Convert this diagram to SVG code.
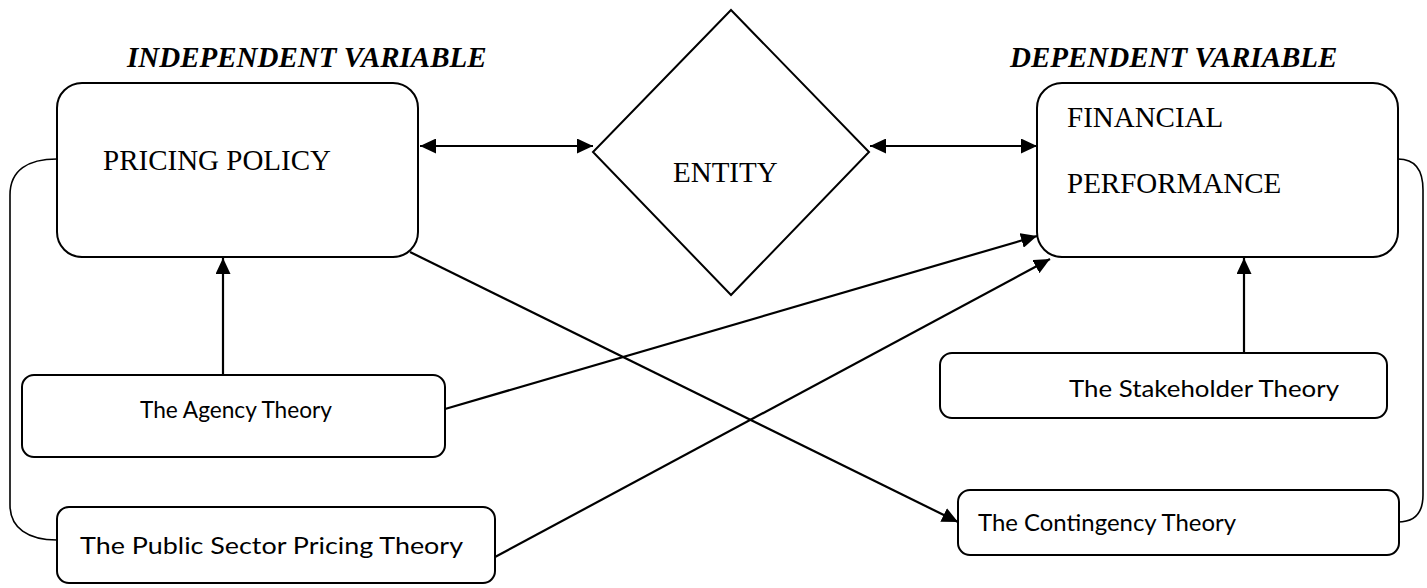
<svg xmlns="http://www.w3.org/2000/svg" width="1427" height="588" viewBox="0 0 1427 588">
<style>
.box{fill:#fff;stroke:#000;stroke-width:2}
.br{fill:none;stroke:#000;stroke-width:1.6}
.ln{fill:none;stroke:#000;stroke-width:2.2}
.tnr{font-family:"Liberation Serif",serif;font-size:29px;fill:#000}
.hd{font-family:"Liberation Serif",serif;font-size:29px;font-weight:bold;font-style:italic;fill:#000}
.cal{font-family:Lato,"Open Sans",sans-serif;font-size:23px;fill:#000}
</style>
<defs>
<marker id="ah" markerUnits="userSpaceOnUse" markerWidth="17" markerHeight="15" refX="16" refY="7.5" orient="auto-start-reverse">
<path d="M0,0 L16,7.5 L0,15 z" fill="#000"/>
</marker>
</defs>
<rect width="1427" height="588" fill="#fff"/>
<text class="hd" x="127" y="67">INDEPENDENT VARIABLE</text>
<text class="hd" x="1010" y="67">DEPENDENT VARIABLE</text>
<g id="brackets">
<path class="br" d="M57,159 C28,159 10,170 10,195 L10,505 C10,528 28,540 57,540"/>
<path class="br" d="M1398,159 C1415,159 1423,170 1423,190 L1423,495 C1423,512 1415,522 1398,522"/>
</g>
<g id="pricing"><rect class="box" x="57" y="83" width="361" height="174" rx="25"/><text class="tnr" x="103" y="170">PRICING POLICY</text></g>
<g id="entity"><polygon class="box" points="731,10 869,152 731,295 593,152"/><text class="tnr" x="673" y="182">ENTITY</text></g>
<g id="financial"><rect class="box" x="1037" y="83" width="361" height="174" rx="25"/><text class="tnr" x="1067" y="127">FINANCIAL</text><text class="tnr" x="1067" y="193">PERFORMANCE</text></g>
<g id="agency"><rect class="box" x="22" y="375" width="423" height="82" rx="12"/><text class="cal" x="140" y="418" textLength="192" lengthAdjust="spacingAndGlyphs">The Agency Theory</text></g>
<g id="public"><rect class="box" x="57" y="507" width="438" height="76" rx="12"/><text class="cal" x="80" y="554" textLength="383" lengthAdjust="spacingAndGlyphs">The Public Sector Pricing Theory</text></g>
<g id="stakeholder"><rect class="box" x="940" y="353" width="447" height="65" rx="12"/><text class="cal" x="1069" y="397" textLength="270" lengthAdjust="spacingAndGlyphs">The Stakeholder Theory</text></g>
<g id="contingency"><rect class="box" x="958" y="490" width="441" height="65" rx="12"/><text class="cal" x="978" y="531" textLength="258" lengthAdjust="spacingAndGlyphs">The Contingency Theory</text></g>
<g id="connectors">
<line class="ln" x1="420" y1="146" x2="593" y2="146" marker-start="url(#ah)" marker-end="url(#ah)"/>
<line class="ln" x1="870" y1="146" x2="1037" y2="146" marker-start="url(#ah)" marker-end="url(#ah)"/>
<line class="ln" x1="223" y1="375" x2="223" y2="258" marker-end="url(#ah)"/>
<line class="ln" x1="1244" y1="353" x2="1244" y2="258" marker-end="url(#ah)"/>
<line class="ln" x1="410" y1="252" x2="958" y2="522" marker-end="url(#ah)"/>
<line class="ln" x1="445" y1="409" x2="1037" y2="236" marker-end="url(#ah)"/>
<line class="ln" x1="495" y1="557" x2="1050" y2="259" marker-end="url(#ah)"/>
</g>
</svg>
